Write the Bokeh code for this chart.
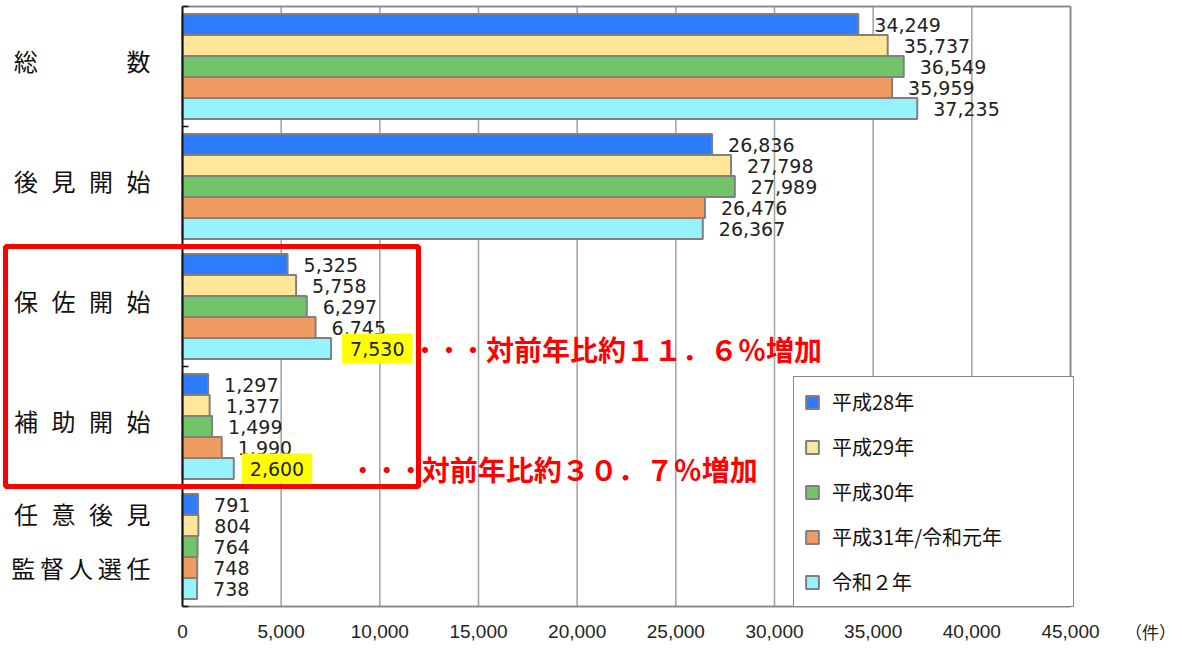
from bokeh.plotting import figure
from bokeh.models import Range1d, Legend, LegendItem, BoxAnnotation, Label, ColumnDataSource
from bokeh.core.properties import value
from bokeh.embed import file_html
from bokeh.resources import INLINE

# ---- data ----
categories = ["総数", "後見開始", "保佐開始", "補助開始", "任意後見監督人選任"]
category_labels = [
    "総\u3000\u3000\u3000\u2002\u2009数",
    "後\u2002\u200a見\u2002\u200a開\u2002\u200a始",
    "保\u2002\u200a佐\u2002\u200a開\u2002\u200a始",
    "補\u2002\u200a助\u2002\u200a開\u2002\u200a始",
    "任\u2002\u200a意\u2002\u200a後\u2002\u200a見\n監\u2009督\u2009人\u2009選\u2009任",
]
series = ["平成28年", "平成29年", "平成30年", "平成31年/令和元年", "令和２年"]
h28 = [34249, 26836, 5325, 1297, 791]
h29 = [35737, 27798, 5758, 1377, 804]
h30 = [36549, 27989, 6297, 1499, 764]
h31 = [35959, 26476, 6745, 1990, 748]
r02 = [37235, 26367, 7530, 2600, 738]
all_values = [h28, h29, h30, h31, r02]
colors = ["#2B7CFF", "#FFE699", "#72C46B", "#F09B62", "#96F2FB"]
x_ticks = [0, 5000, 10000, 15000, 20000, 25000, 30000, 35000, 40000, 45000]
unit_label = "（件）"
highlight_cats = ["保佐開始", "補助開始"]
note_lead = "・・・"
notes = ["対前年比約１１．６％増加", "対前年比約３０．７％増加"]

# ---- layout constants (pixels) ----
W, H = 1176, 644
ZERO_PX = 182                 # pixel of x = 0
PX_PER = 888 / 45000          # pixels per x unit
TOP_PX, BOT_PX = 6, 606       # pixels of y = 0 and y = n_cat
n_cat = len(categories)
PY_PER = (BOT_PX - TOP_PX) / n_cat

def px(d):
    return d / PX_PER

def py(d):
    return d / PY_PER

BAR_H = 0.175
cat_pos = {c: i + 0.5 for i, c in enumerate(categories)}
x_end = x_ticks[-1]

p = figure(width=W, height=H, output_backend="svg", toolbar_location=None,
           x_range=Range1d(-px(ZERO_PX), px(W - ZERO_PX)),
           y_range=Range1d(n_cat + py(H - BOT_PX), -py(TOP_PX)),
           x_axis_location=None, y_axis_location=None,
           min_border_left=0, min_border_right=0, min_border_top=0, min_border_bottom=0)
p.background_fill_color = "white"
p.border_fill_color = "white"
p.outline_line_color = None
p.grid.visible = False

# vertical grid lines inside the plot box
grid_x = x_ticks[1:-1]
p.segment(x0=grid_x, x1=grid_x, y0=0, y1=n_cat, line_color="#A0A0A0", line_width=1.5)

items = []
val_x, val_y, val_t = [], [], []
for j, (name, vals, col) in enumerate(zip(series, all_values, colors)):
    ys = [cat_pos[c] + (j - 2) * BAR_H for c in categories]
    src = ColumnDataSource(dict(y=ys, right=vals))
    r = p.hbar(y="y", left=0, right="right", height=BAR_H, source=src,
               fill_color=col, line_color="#808080", line_width=2)
    items.append(LegendItem(label=name, renderers=[r]))
    for c, y, v in zip(categories, ys, vals):
        if j == len(series) - 1 and c in highlight_cats:
            continue
        val_x.append(v); val_y.append(y); val_t.append(f"{v:,}")

# plot box border (top, right, bottom) and left axis line with inward ticks
p.segment(x0=[0, x_end, 0], x1=[x_end, x_end, x_end], y0=[0, 0, n_cat], y1=[0, n_cat, n_cat],
          line_color="#8C8C8C", line_width=2)
p.segment(x0=[0], x1=[0], y0=[0], y1=[n_cat], line_color="#111111", line_width=2)
bounds = list(range(n_cat + 1))
p.segment(x0=[0] * len(bounds), x1=[px(6)] * len(bounds), y0=bounds, y1=bounds,
          line_color="#111111", line_width=1.5)

# x tick labels and unit
p.text(x=x_ticks, y=[n_cat] * len(x_ticks), text=[f"{t:,}" for t in x_ticks],
       y_offset=25, text_align="center", text_baseline="middle",
       text_font=value("Liberation Sans"), text_font_size="19px", text_color="#222222")
p.text(x=[x_end + px(80)], y=[n_cat], text=[unit_label], y_offset=25,
       text_align="center", text_baseline="middle",
       text_font=value("Noto Sans CJK JP"), text_font_size="17px", text_color="#222222")

# category labels
p.text(x=[-px(32)] * n_cat, y=[cat_pos[c] for c in categories], text=category_labels,
       y_offset=-6, text_align="right", text_baseline="middle", text_line_height=1.55,
       text_font=value("Noto Sans CJK JP"), text_font_size="24px", text_color="#111111")

# value labels
p.text(x=val_x, y=val_y, text=val_t, x_offset=16, text_baseline="middle",
       text_font=value("DejaVu Sans"), text_font_size="19px", text_color="#222222")

# highlighted labels and notes
label_offsets = [11, 8]
lead_offsets = [82, 117]
note_offsets = [155, 188]
hx = [r02[categories.index(c)] for c in highlight_cats]
hy = [cat_pos[c] + 2 * BAR_H for c in highlight_cats]
for k in range(len(highlight_cats)):
    p.add_layout(Label(x=hx[k], y=hy[k], text=f"{hx[k]:,}", x_offset=label_offsets[k],
                       text_baseline="middle", text_align="left",
                       text_font="DejaVu Sans", text_font_size="19px", text_color="#222222",
                       background_fill_color="#FFFF00", padding=8))
p.text(x=hx, y=hy, text=[note_lead] * len(hx), x_offset=lead_offsets, text_baseline="middle",
       text_font=value("Noto Sans CJK JP"), text_font_style="bold",
       text_font_size="24px", text_color="#FF0000")
p.text(x=hx, y=hy, text=notes, x_offset=note_offsets, text_baseline="middle",
       text_font=value("Noto Sans CJK JP"), text_font_style="bold",
       text_font_size="28px", text_color="#FF0000")

# red box around 保佐開始 / 補助開始
i0 = categories.index(highlight_cats[0]); i1 = categories.index(highlight_cats[1])
p.add_layout(BoxAnnotation(left=-px(177), right=px(236), top=i0, bottom=i1 + 1,
                           fill_alpha=0, line_color="#FF0000", line_alpha=1, line_width=5))

legend = Legend(items=items, location=(793, H - 607), orientation="vertical",
                border_line_color="#111111", border_line_width=1.2,
                background_fill_color="white", background_fill_alpha=1,
                padding=10, spacing=16, margin=0,
                label_height=22, glyph_height=16, glyph_width=16, label_standoff=12,
                label_width=231,
                label_text_font="Noto Sans CJK JP", label_text_font_size="20px",
                label_text_color="#111111")
p.add_layout(legend, "center")

open("out.html", "w").write(file_html(p, INLINE))
